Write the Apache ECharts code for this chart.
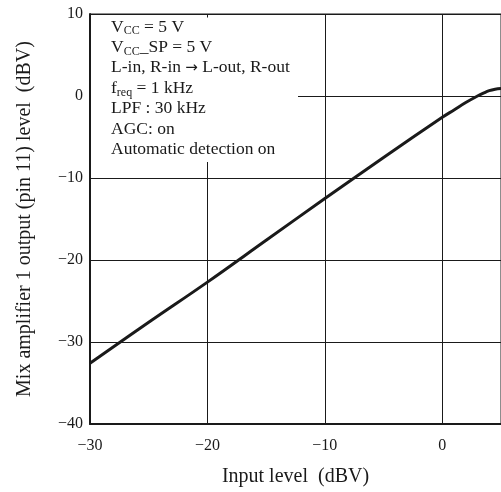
<!DOCTYPE html>
<html><head><meta charset="utf-8">
<script src="https://cdn.jsdelivr.net/npm/echarts@6/dist/echarts.min.js"></script>
<style>html,body{margin:0;padding:0;background:#fff}#c{width:501px;height:492px}</style>
</head><body><div id="c"></div>
<script>
var inputLevel = [-30, -25, -20, -15, -10, -5, 0, 1, 2, 3, 3.5, 4, 4.5, 5];
var outputLevel = [-32.6, -27.6, -22.7, -17.6, -12.5, -7.5, -2.6, -1.7, -0.8, 0.0, 0.35, 0.65, 0.82, 0.9];
var xTicks = [-30, -20, -10, 0];
var yTicks = [-40, -30, -20, -10, 0, 10];
var noteLines = [
  '{n|V}{s|CC}{n| = 5 V}',
  '{n|V}{s|CC}{n|_SP = 5 V}',
  '{n|L-in, R-in }{a|\u2192}{n| L-out, R-out}',
  '{n|f}{s|req}{n| = 1 kHz}',
  '{n|LPF : 30 kHz}',
  '{n|AGC: on}',
  '{n|Automatic detection on}'
];
var xName = 'Input level  (dBV)';
var yName = 'Mix amplifier 1 output (pin 11) level  (dBV)';

var font = 'Liberation Serif';
var ink = '#1a1a1a';
function fmt(v){ return String(v).replace('-', '\u2212'); }
var chart = echarts.init(document.getElementById('c'));
chart.setOption({
  animation: false,
  backgroundColor: '#fff',
  grid: {left: 90, right: -1, top: 14, bottom: 67, show: true, borderColor: ink, borderWidth: 1, containLabel: false},
  xAxis: {
    type: 'value', min: -30, max: 5, interval: 10,
    name: xName, nameLocation: 'middle', nameGap: 43,
    nameTextStyle: {fontFamily: font, fontSize: 20, color: ink},
    axisLine: {show: true, onZero: false, lineStyle: {color: ink, width: 2}},
    axisTick: {show: false},
    axisLabel: {fontFamily: font, fontSize: 16, color: ink, margin: 14, showMaxLabel: false,
      formatter: function(v){ return xTicks.indexOf(v) >= 0 ? fmt(v) : ''; }},
    splitLine: {show: true, lineStyle: {color: ink, width: 1}}
  },
  yAxis: {
    type: 'value', min: -40, max: 10, interval: 10,
    name: yName, nameLocation: 'middle', nameGap: 55,
    nameTextStyle: {fontFamily: font, fontSize: 20, color: ink},
    axisLine: {show: true, onZero: false, lineStyle: {color: ink, width: 2}},
    axisTick: {show: false},
    axisLabel: {fontFamily: font, fontSize: 16, color: ink, margin: 7,
      formatter: function(v){ return yTicks.indexOf(v) >= 0 ? fmt(v) : ''; }},
    splitLine: {show: true, lineStyle: {color: ink, width: 1}}
  },
  graphic: [
    {type: 'rect', z: 100, shape: {x: 91, y: 17.5, width: 207, height: 144.5}, style: {fill: '#fff'}},
    {type: 'text', z: 101, left: 111, top: 18,
      style: {
        text: noteLines.join('\n'),
        fill: ink,
        rich: {
          n: {fontFamily: font, fontSize: 17.5, lineHeight: 20.4, fill: ink},
          a: {fontFamily: 'DejaVu Sans', fontSize: 15, lineHeight: 20.4, fill: ink},
          s: {fontFamily: font, fontSize: 12, lineHeight: 11, verticalAlign: 'bottom', fill: ink}
        }
      }}
  ],
  series: [{
    type: 'line', smooth: 0.4, symbol: 'none',
    data: inputLevel.map(function(x, i){ return [x, outputLevel[i]]; }),
    lineStyle: {color: ink, width: 3}
  }]
});
</script></body></html>
